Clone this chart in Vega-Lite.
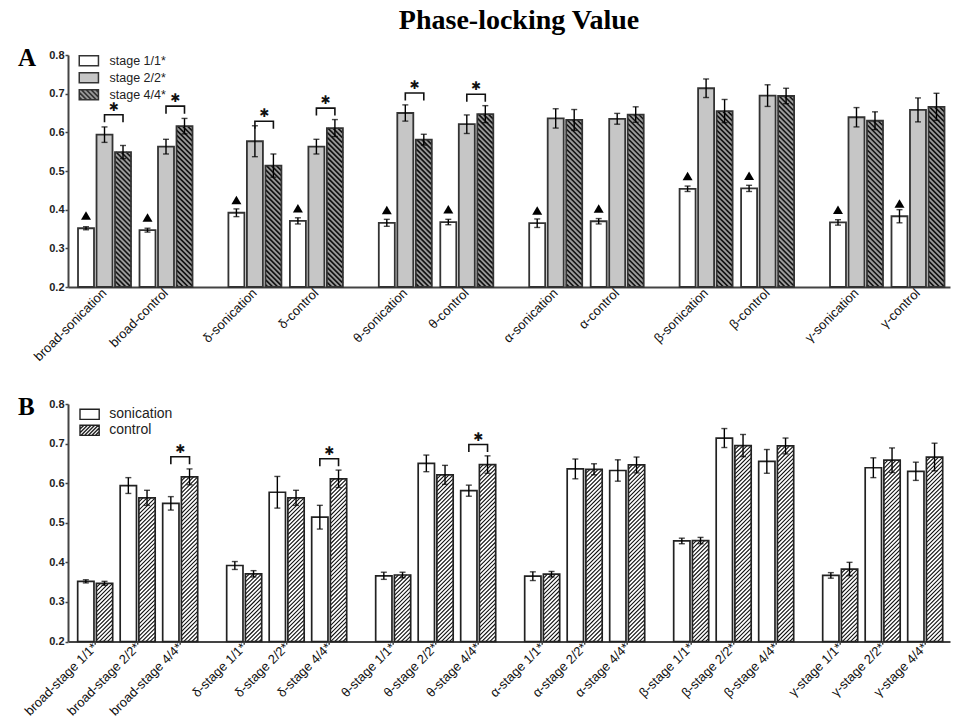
{
  "$schema": "https://vega.github.io/schema/vega-lite/v6.json",
  "background": "white",
  "padding": {"left": 18, "top": 7, "right": 2, "bottom": 0},
  "title": {"text": "Phase-locking Value", "font": "Liberation Serif", "fontSize": 28, "fontWeight": "bold", "color": "#000", "anchor": "middle", "dx": 35, "offset": 11},
  "datasets": {
    "plv": [
      {"band": "broad", "cond": "sonication", "stage": "stage 1/1*", "pair": "broad-sonication", "bin": "broad-stage 1/1*", "v": 0.352, "e": 0.004, "sigA": false, "sigB": false},
      {"band": "broad", "cond": "sonication", "stage": "stage 2/2*", "pair": "broad-sonication", "bin": "broad-stage 2/2*", "v": 0.594, "e": 0.020, "sigA": true, "sigB": false},
      {"band": "broad", "cond": "sonication", "stage": "stage 4/4*", "pair": "broad-sonication", "bin": "broad-stage 4/4*", "v": 0.549, "e": 0.017, "sigA": true, "sigB": true},
      {"band": "broad", "cond": "control", "stage": "stage 1/1*", "pair": "broad-control", "bin": "broad-stage 1/1*", "v": 0.347, "e": 0.005, "sigA": false, "sigB": false},
      {"band": "broad", "cond": "control", "stage": "stage 2/2*", "pair": "broad-control", "bin": "broad-stage 2/2*", "v": 0.563, "e": 0.019, "sigA": true, "sigB": false},
      {"band": "broad", "cond": "control", "stage": "stage 4/4*", "pair": "broad-control", "bin": "broad-stage 4/4*", "v": 0.616, "e": 0.020, "sigA": true, "sigB": true},
      {"band": "δ", "cond": "sonication", "stage": "stage 1/1*", "pair": "δ-sonication", "bin": "δ-stage 1/1*", "v": 0.392, "e": 0.010, "sigA": false, "sigB": false},
      {"band": "δ", "cond": "sonication", "stage": "stage 2/2*", "pair": "δ-sonication", "bin": "δ-stage 2/2*", "v": 0.577, "e": 0.040, "sigA": true, "sigB": false},
      {"band": "δ", "cond": "sonication", "stage": "stage 4/4*", "pair": "δ-sonication", "bin": "δ-stage 4/4*", "v": 0.514, "e": 0.030, "sigA": true, "sigB": true},
      {"band": "δ", "cond": "control", "stage": "stage 1/1*", "pair": "δ-control", "bin": "δ-stage 1/1*", "v": 0.371, "e": 0.008, "sigA": false, "sigB": false},
      {"band": "δ", "cond": "control", "stage": "stage 2/2*", "pair": "δ-control", "bin": "δ-stage 2/2*", "v": 0.563, "e": 0.019, "sigA": true, "sigB": false},
      {"band": "δ", "cond": "control", "stage": "stage 4/4*", "pair": "δ-control", "bin": "δ-stage 4/4*", "v": 0.611, "e": 0.022, "sigA": true, "sigB": true},
      {"band": "θ", "cond": "sonication", "stage": "stage 1/1*", "pair": "θ-sonication", "bin": "θ-stage 1/1*", "v": 0.366, "e": 0.009, "sigA": false, "sigB": false},
      {"band": "θ", "cond": "sonication", "stage": "stage 2/2*", "pair": "θ-sonication", "bin": "θ-stage 2/2*", "v": 0.650, "e": 0.021, "sigA": true, "sigB": false},
      {"band": "θ", "cond": "sonication", "stage": "stage 4/4*", "pair": "θ-sonication", "bin": "θ-stage 4/4*", "v": 0.581, "e": 0.014, "sigA": true, "sigB": true},
      {"band": "θ", "cond": "control", "stage": "stage 1/1*", "pair": "θ-control", "bin": "θ-stage 1/1*", "v": 0.368, "e": 0.007, "sigA": false, "sigB": false},
      {"band": "θ", "cond": "control", "stage": "stage 2/2*", "pair": "θ-control", "bin": "θ-stage 2/2*", "v": 0.621, "e": 0.024, "sigA": true, "sigB": false},
      {"band": "θ", "cond": "control", "stage": "stage 4/4*", "pair": "θ-control", "bin": "θ-stage 4/4*", "v": 0.647, "e": 0.022, "sigA": true, "sigB": true},
      {"band": "α", "cond": "sonication", "stage": "stage 1/1*", "pair": "α-sonication", "bin": "α-stage 1/1*", "v": 0.365, "e": 0.011, "sigA": false, "sigB": false},
      {"band": "α", "cond": "sonication", "stage": "stage 2/2*", "pair": "α-sonication", "bin": "α-stage 2/2*", "v": 0.636, "e": 0.025, "sigA": false, "sigB": false},
      {"band": "α", "cond": "sonication", "stage": "stage 4/4*", "pair": "α-sonication", "bin": "α-stage 4/4*", "v": 0.632, "e": 0.027, "sigA": false, "sigB": false},
      {"band": "α", "cond": "control", "stage": "stage 1/1*", "pair": "α-control", "bin": "α-stage 1/1*", "v": 0.370, "e": 0.007, "sigA": false, "sigB": false},
      {"band": "α", "cond": "control", "stage": "stage 2/2*", "pair": "α-control", "bin": "α-stage 2/2*", "v": 0.635, "e": 0.014, "sigA": false, "sigB": false},
      {"band": "α", "cond": "control", "stage": "stage 4/4*", "pair": "α-control", "bin": "α-stage 4/4*", "v": 0.646, "e": 0.020, "sigA": false, "sigB": false},
      {"band": "β", "cond": "sonication", "stage": "stage 1/1*", "pair": "β-sonication", "bin": "β-stage 1/1*", "v": 0.454, "e": 0.007, "sigA": false, "sigB": false},
      {"band": "β", "cond": "sonication", "stage": "stage 2/2*", "pair": "β-sonication", "bin": "β-stage 2/2*", "v": 0.714, "e": 0.024, "sigA": false, "sigB": false},
      {"band": "β", "cond": "sonication", "stage": "stage 4/4*", "pair": "β-sonication", "bin": "β-stage 4/4*", "v": 0.655, "e": 0.030, "sigA": false, "sigB": false},
      {"band": "β", "cond": "control", "stage": "stage 1/1*", "pair": "β-control", "bin": "β-stage 1/1*", "v": 0.455, "e": 0.008, "sigA": false, "sigB": false},
      {"band": "β", "cond": "control", "stage": "stage 2/2*", "pair": "β-control", "bin": "β-stage 2/2*", "v": 0.695, "e": 0.028, "sigA": false, "sigB": false},
      {"band": "β", "cond": "control", "stage": "stage 4/4*", "pair": "β-control", "bin": "β-stage 4/4*", "v": 0.694, "e": 0.020, "sigA": false, "sigB": false},
      {"band": "γ", "cond": "sonication", "stage": "stage 1/1*", "pair": "γ-sonication", "bin": "γ-stage 1/1*", "v": 0.367, "e": 0.007, "sigA": false, "sigB": false},
      {"band": "γ", "cond": "sonication", "stage": "stage 2/2*", "pair": "γ-sonication", "bin": "γ-stage 2/2*", "v": 0.639, "e": 0.025, "sigA": false, "sigB": false},
      {"band": "γ", "cond": "sonication", "stage": "stage 4/4*", "pair": "γ-sonication", "bin": "γ-stage 4/4*", "v": 0.630, "e": 0.023, "sigA": false, "sigB": false},
      {"band": "γ", "cond": "control", "stage": "stage 1/1*", "pair": "γ-control", "bin": "γ-stage 1/1*", "v": 0.383, "e": 0.017, "sigA": false, "sigB": false},
      {"band": "γ", "cond": "control", "stage": "stage 2/2*", "pair": "γ-control", "bin": "γ-stage 2/2*", "v": 0.658, "e": 0.031, "sigA": false, "sigB": false},
      {"band": "γ", "cond": "control", "stage": "stage 4/4*", "pair": "γ-control", "bin": "γ-stage 4/4*", "v": 0.666, "e": 0.035, "sigA": false, "sigB": false}
    ]
  },
  "data": {"name": "plv"},
  "spacing": 117,
  "bounds": "flush",
  "resolve": {
    "scale": {"x": "independent", "y": "independent", "xOffset": "independent", "fill": "independent"},
    "legend": {"fill": "independent"}
  },
  "vconcat": [
    {
      "width": 882,
      "height": 232,
      "title": {"text": "A", "anchor": "start", "frame": "group", "font": "Liberation Serif", "fontSize": 25, "fontWeight": "bold", "color": "#000", "dx": -50, "dy": 42, "offset": 0, "baseline": "alphabetic"},
      "encoding": {
        "x": {"field": "band", "type": "nominal", "sort": ["broad", "δ", "θ", "α", "β", "γ"],
              "scale": {"paddingInner": 0.2387, "paddingOuter": 0.0516, "align": 0.645},
              "axis": {"title": null, "labels": false, "ticks": false, "domainColor": "#444", "domainWidth": 2}},
        "y": {"field": "v", "type": "quantitative",
              "scale": {"domain": [0.2, 0.8], "zero": false, "nice": false},
              "axis": {"title": null, "values": [0.2, 0.3, 0.4, 0.5, 0.6, 0.7, 0.8], "format": ".1f", "grid": false,
                       "domainColor": "#444", "domainWidth": 2, "tickColor": "#444", "tickWidth": 1.5, "tickSize": 3,
                       "labelFontSize": 11, "labelFontWeight": "bold", "labelColor": "#222", "labelPadding": 1,
                       "labelFlush": false, "labelOverlap": false}}
      },
      "resolve": {"scale": {"xOffset": "independent"}},
      "layer": [
        {
          "transform": [{"filter": "datum.cond === 'sonication'"}],
          "encoding": {"xOffset": {"field": "stage", "type": "nominal",
                                   "scale": {"type": "band", "domain": ["stage 1/1*", "stage 2/2*", "stage 4/4*", "gap 1", "gap 2", "gap 3"], "paddingInner": 0.1351, "paddingOuter": 0.162, "align": 0}}},
          "layer": [
            {"mark": {"type": "bar", "strokeWidth": 0},
             "encoding": {"y2": {"datum": 0.2},
                          "fill": {"field": "stage", "type": "nominal",
                                   "scale": {"domain": ["stage 1/1*", "stage 2/2*", "stage 4/4*"], "range": ["#ffffff", "#c6c6c6", "#9a9a9a"]},
                                   "legend": {"title": null, "orient": "none", "legendX": 14.6, "legendY": -0.5, "padding": 0,
                                              "symbolType": "M-1.92,-1.02H1.92V1.02H-1.92Z", "symbolSize": 100, "symbolOpacity": 1,
                                              "symbolStrokeColor": "#333", "symbolStrokeWidth": 1.5,
                                              "labelFont": "Liberation Sans", "labelFontSize": 12.5, "labelColor": "#222", "labelOffset": 14.4, "rowPadding": 0,
                                              "encode": {"symbols": {"update": {"shape": [
                                                {"test": "datum.value === 'stage 4/4*'", "value": "M-1.92,-1.02H1.92V1.02H-1.92ZM1.38,-1.02L1.92,-0.48M0.42,-1.02L1.92,0.48M-0.54,-1.02L1.5,1.02M-1.5,-1.02L0.54,1.02M-1.92,-0.48L-0.42,1.02M-1.92,0.48L-1.38,1.02"},
                                                {"value": "M-1.92,-1.02H1.92V1.02H-1.92Z"}]}}}}}}},
            {"transform": [{"filter": "datum.stage === 'stage 4/4*'"}],
             "mark": {"type": "point", "clip": true, "filled": false, "opacity": 1, "stroke": "#111", "strokeWidth": 1.6, "size": 256,
                      "shape": "M0.375,0L1,0.625M-0.25,0L1,1.25M-0.875,0L1,1.875M-1,0.5l2,2M-1,1.125l2,2M-1,1.75l2,2M-1,2.375l2,2M-1,3l2,2M-1,3.625l2,2M-1,4.25l2,2M-1,4.875l2,2M-1,5.5l2,2M-1,6.125l2,2M-1,6.75l2,2M-1,7.375l2,2M-1,8l2,2M-1,8.625l2,2M-1,9.25l2,2M-1,9.875l2,2M-1,10.5l2,2M-1,11.125l2,2M-1,11.75l2,2M-1,12.375l2,2M-1,13l2,2M-1,13.625l2,2M-1,14.25l2,2M-1,14.875l2,2M-1,15.5l2,2M-1,16.125l2,2M-1,16.75l2,2M-1,17.375l2,2M-1,18l2,2M-1,18.625l2,2M-1,19.25l2,2M-1,19.875l2,2M-1,20.5l2,2M-1,21.125l2,2M-1,21.75l2,2M-1,22.375l2,2M-1,23l2,2M-1,23.625l2,2M-1,24.25l2,2M-1,24.875l2,2M-1,25.5l2,2"}},
            {"mark": {"type": "bar", "fillOpacity": 0, "stroke": "#333", "strokeWidth": 1.8}, "encoding": {"y2": {"datum": 0.2}}},
            {"mark": {"type": "errorbar", "ticks": {"size": 6}, "thickness": 1.4, "color": "#000"}, "encoding": {"yError": {"field": "e"}}},
            {"transform": [{"filter": "datum.stage === 'stage 1/1*'"}],
             "mark": {"type": "point", "shape": "M-1,-1.7H1L0,-3.4Z", "size": 100, "filled": true, "fill": "#000", "strokeWidth": 0, "opacity": 1}}
          ]
        },
        {
          "transform": [{"filter": "datum.cond === 'control'"}],
          "encoding": {"xOffset": {"field": "stage", "type": "nominal",
                                   "scale": {"type": "band", "domain": ["gap 1", "gap 2", "gap 3", "stage 1/1*", "stage 2/2*", "stage 4/4*"], "paddingInner": 0.1351, "paddingOuter": 0.162, "align": 1}}},
          "layer": [
            {"mark": {"type": "bar", "strokeWidth": 0},
             "encoding": {"y2": {"datum": 0.2},
                          "fill": {"field": "stage", "type": "nominal",
                                   "scale": {"domain": ["stage 1/1*", "stage 2/2*", "stage 4/4*"], "range": ["#ffffff", "#c6c6c6", "#9a9a9a"]}}}},
            {"transform": [{"filter": "datum.stage === 'stage 4/4*'"}],
             "mark": {"type": "point", "clip": true, "filled": false, "opacity": 1, "stroke": "#111", "strokeWidth": 1.6, "size": 256,
                      "shape": "M0.375,0L1,0.625M-0.25,0L1,1.25M-0.875,0L1,1.875M-1,0.5l2,2M-1,1.125l2,2M-1,1.75l2,2M-1,2.375l2,2M-1,3l2,2M-1,3.625l2,2M-1,4.25l2,2M-1,4.875l2,2M-1,5.5l2,2M-1,6.125l2,2M-1,6.75l2,2M-1,7.375l2,2M-1,8l2,2M-1,8.625l2,2M-1,9.25l2,2M-1,9.875l2,2M-1,10.5l2,2M-1,11.125l2,2M-1,11.75l2,2M-1,12.375l2,2M-1,13l2,2M-1,13.625l2,2M-1,14.25l2,2M-1,14.875l2,2M-1,15.5l2,2M-1,16.125l2,2M-1,16.75l2,2M-1,17.375l2,2M-1,18l2,2M-1,18.625l2,2M-1,19.25l2,2M-1,19.875l2,2M-1,20.5l2,2M-1,21.125l2,2M-1,21.75l2,2M-1,22.375l2,2M-1,23l2,2M-1,23.625l2,2M-1,24.25l2,2M-1,24.875l2,2M-1,25.5l2,2"}},
            {"mark": {"type": "bar", "fillOpacity": 0, "stroke": "#333", "strokeWidth": 1.8}, "encoding": {"y2": {"datum": 0.2}}},
            {"mark": {"type": "errorbar", "ticks": {"size": 6}, "thickness": 1.4, "color": "#000"}, "encoding": {"yError": {"field": "e"}}},
            {"transform": [{"filter": "datum.stage === 'stage 1/1*'"}],
             "mark": {"type": "point", "shape": "M-1,-1.7H1L0,-3.4Z", "size": 100, "filled": true, "fill": "#000", "strokeWidth": 0, "opacity": 1}}
          ]
        },
        {
          "encoding": {"xOffset": {"field": "cond", "type": "nominal",
                                   "scale": {"type": "band", "domain": ["sonication", "control"], "paddingInner": 0.138, "paddingOuter": 0}}},
          "layer": [
            {"transform": [{"filter": "datum.stage === 'stage 2/2*'"}],
             "mark": {"type": "text", "angle": 315, "align": "right", "baseline": "middle", "font": "Liberation Sans", "fontSize": 13, "color": "#111", "yOffset": 4},
             "encoding": {"y": {"datum": 0.2}, "text": {"field": "pair"}}},
            {"transform": [{"filter": "datum.sigA"}],
             "mark": {"type": "point", "shape": "M0,-1.35V-2.16H2V-1.35", "size": 342, "filled": false, "stroke": "#111", "strokeWidth": 1.6, "opacity": 1},
             "encoding": {"y": {"aggregate": "max", "field": "v", "type": "quantitative"}}},
            {"transform": [{"filter": "datum.sigA"}],
             "mark": {"type": "text", "text": "✱", "font": "DejaVu Sans", "fontSize": 12, "dx": 9.25, "dy": -28, "baseline": "middle", "color": "#111"},
             "encoding": {"y": {"aggregate": "max", "field": "v", "type": "quantitative"}}}
          ]
        }
      ]
    },
    {
      "width": 882,
      "height": 237.5,
      "title": {"text": "B", "anchor": "start", "frame": "group", "font": "Liberation Serif", "fontSize": 25, "fontWeight": "bold", "color": "#000", "dx": -50, "dy": 42, "offset": 0, "baseline": "alphabetic"},
      "encoding": {
        "x": {"field": "band", "type": "nominal", "sort": ["broad", "δ", "θ", "α", "β", "γ"],
              "scale": {"paddingInner": 0.1946, "paddingOuter": 0.057, "align": 0.57},
              "axis": {"title": null, "labels": false, "ticks": false, "domainColor": "#444", "domainWidth": 2}},
        "y": {"field": "v", "type": "quantitative",
              "scale": {"domain": [0.2, 0.8], "zero": false, "nice": false},
              "axis": {"title": null, "values": [0.2, 0.3, 0.4, 0.5, 0.6, 0.7, 0.8], "format": ".1f", "grid": false,
                       "domainColor": "#444", "domainWidth": 2, "tickColor": "#444", "tickWidth": 1.5, "tickSize": 3,
                       "labelFontSize": 11, "labelFontWeight": "bold", "labelColor": "#222", "labelPadding": 1,
                       "labelFlush": false, "labelOverlap": false}}
      },
      "resolve": {"scale": {"xOffset": "independent"}},
      "layer": [
        {
          "transform": [{"filter": "datum.cond === 'sonication'"}],
          "encoding": {"xOffset": {"field": "stage", "type": "nominal",
                                   "scale": {"type": "band", "domain": ["stage 1/1*", "stage 2/2*", "stage 4/4*"], "paddingInner": 0.6165, "paddingOuter": 0.22, "align": 0}}},
          "layer": [
            {"mark": {"type": "bar", "strokeWidth": 0},
             "encoding": {"y2": {"datum": 0.2},
                          "fill": {"field": "cond", "type": "nominal",
                                   "scale": {"domain": ["sonication", "control"], "range": ["#ffffff", "#ffffff"]},
                                   "legend": {"title": null, "orient": "none", "legendX": 14.6, "legendY": 3.3, "padding": 0,
                                              "symbolType": "M-1.6,-0.85H1.6V0.85H-1.6Z", "symbolSize": 144, "symbolOpacity": 1,
                                              "symbolStrokeColor": "#222", "symbolStrokeWidth": 1.4,
                                              "labelFont": "Liberation Sans", "labelFontSize": 14, "labelColor": "#222", "labelOffset": 12.7, "rowPadding": 0,
                                              "encode": {"symbols": {"update": {"shape": [
                                                {"test": "datum.value === 'control'", "value": "M-1.6,-0.85H1.6V0.85H-1.6ZM-1.6,-0.2L-0.95,-0.85M-1.6,0.4L-0.35,-0.85M-1.45,0.85L0.25,-0.85M-0.85,0.85L0.85,-0.85M-0.25,0.85L1.45,-0.85M0.35,0.85L1.6,-0.4M0.95,0.85L1.6,0.2"},
                                                {"value": "M-1.6,-0.85H1.6V0.85H-1.6Z"}]}}}}}}},
            {"mark": {"type": "bar", "fillOpacity": 0, "stroke": "#222", "strokeWidth": 1.7}, "encoding": {"y2": {"datum": 0.2}}},
            {"mark": {"type": "errorbar", "ticks": {"size": 6}, "thickness": 1.4, "color": "#000"}, "encoding": {"yError": {"field": "e"}}}
          ]
        },
        {
          "transform": [{"filter": "datum.cond === 'control'"}],
          "encoding": {"xOffset": {"field": "stage", "type": "nominal",
                                   "scale": {"type": "band", "domain": ["stage 1/1*", "stage 2/2*", "stage 4/4*"], "paddingInner": 0.6165, "paddingOuter": 0.22, "align": 1}}},
          "layer": [
            {"mark": {"type": "bar", "strokeWidth": 0},
             "encoding": {"y2": {"datum": 0.2},
                          "fill": {"field": "cond", "type": "nominal",
                                   "scale": {"domain": ["sonication", "control"], "range": ["#ffffff", "#ffffff"]}}}},
            {"mark": {"type": "point", "clip": true, "filled": false, "opacity": 1, "stroke": "#111", "strokeWidth": 1.1, "size": 265.7,
                      "shape": "M-1,0.5L-0.5,0M-1,1L0,0M-1,1.5L0.5,0M-1,2l2,-2M-1,2.5l2,-2M-1,3l2,-2M-1,3.5l2,-2M-1,4l2,-2M-1,4.5l2,-2M-1,5l2,-2M-1,5.5l2,-2M-1,6l2,-2M-1,6.5l2,-2M-1,7l2,-2M-1,7.5l2,-2M-1,8l2,-2M-1,8.5l2,-2M-1,9l2,-2M-1,9.5l2,-2M-1,10l2,-2M-1,10.5l2,-2M-1,11l2,-2M-1,11.5l2,-2M-1,12l2,-2M-1,12.5l2,-2M-1,13l2,-2M-1,13.5l2,-2M-1,14l2,-2M-1,14.5l2,-2M-1,15l2,-2M-1,15.5l2,-2M-1,16l2,-2M-1,16.5l2,-2M-1,17l2,-2M-1,17.5l2,-2M-1,18l2,-2M-1,18.5l2,-2M-1,19l2,-2M-1,19.5l2,-2M-1,20l2,-2M-1,20.5l2,-2M-1,21l2,-2M-1,21.5l2,-2M-1,22l2,-2M-1,22.5l2,-2M-1,23l2,-2M-1,23.5l2,-2M-1,24l2,-2M-1,24.5l2,-2M-1,25l2,-2M-1,25.5l2,-2M-1,26l2,-2M-1,26.5l2,-2"}},
            {"mark": {"type": "bar", "fillOpacity": 0, "stroke": "#222", "strokeWidth": 1.7}, "encoding": {"y2": {"datum": 0.2}}},
            {"mark": {"type": "errorbar", "ticks": {"size": 6}, "thickness": 1.4, "color": "#000"}, "encoding": {"yError": {"field": "e"}}}
          ]
        },
        {
          "encoding": {"xOffset": {"field": "stage", "type": "nominal",
                                   "scale": {"type": "band", "domain": ["stage 1/1*", "stage 2/2*", "stage 4/4*"], "paddingInner": 0.1765, "paddingOuter": 0}}},
          "layer": [
            {"transform": [{"filter": "datum.cond === 'sonication'"}],
             "mark": {"type": "rule", "stroke": "#444", "strokeWidth": 1.5},
             "encoding": {"y": {"datum": 0.2}, "y2": {"datum": 0.192}}},
            {"transform": [{"filter": "datum.cond === 'sonication'"}],
             "mark": {"type": "text", "angle": 315, "align": "right", "baseline": "middle", "font": "Liberation Sans", "fontSize": 13, "color": "#111", "yOffset": 4},
             "encoding": {"y": {"datum": 0.2}, "text": {"field": "bin"}}},
            {"transform": [{"filter": "datum.sigB"}],
             "mark": {"type": "point", "shape": "M-1,-1.35V-2.14H1V-1.35", "size": 349.7, "filled": false, "stroke": "#111", "strokeWidth": 1.6, "opacity": 1},
             "encoding": {"y": {"aggregate": "max", "field": "v", "type": "quantitative"}}},
            {"transform": [{"filter": "datum.sigB"}],
             "mark": {"type": "text", "text": "✱", "font": "DejaVu Sans", "fontSize": 12, "dy": -28, "baseline": "middle", "color": "#111"},
             "encoding": {"y": {"aggregate": "max", "field": "v", "type": "quantitative"}}}
          ]
        }
      ]
    }
  ],
  "config": {
    "view": {"stroke": null},
    "font": "Liberation Sans",
    "axis": {"labelFont": "Liberation Sans"}
  }
}
